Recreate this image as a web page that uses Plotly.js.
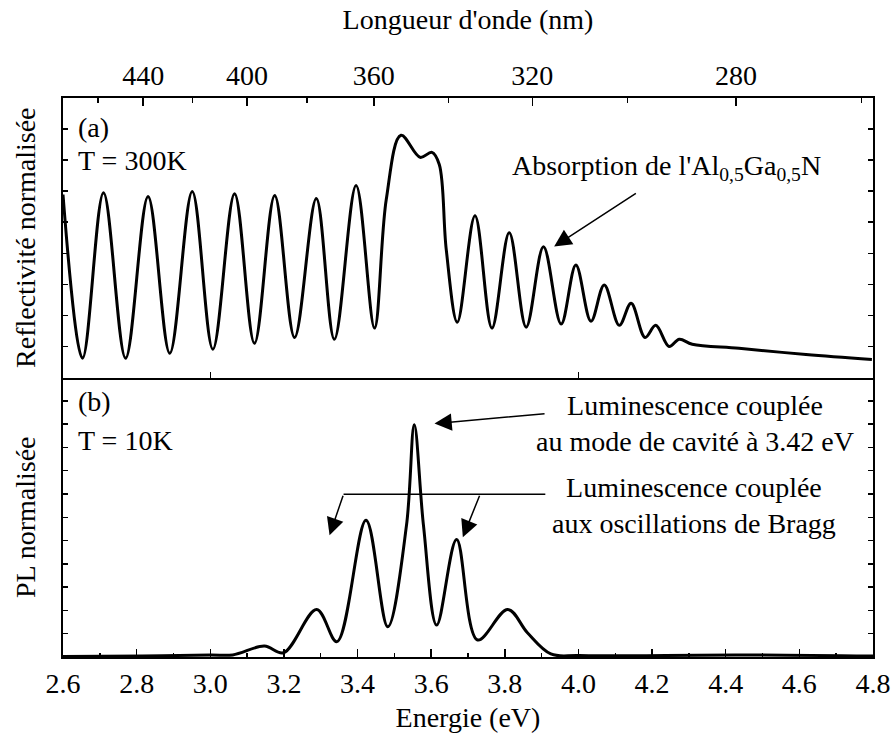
<!DOCTYPE html>
<html>
<head>
<meta charset="utf-8">
<script src="https://cdn.plot.ly/plotly-3.0.1.min.js"></script>
<style>html,body{margin:0;padding:0;background:#fff;}#chart{width:892px;height:749px;}</style>
</head>
<body>
<div id="chart"></div>
<script>
// (a) Reflectivity at 300K (normalised units)
const energyR = [2.600, 2.653, 2.710, 2.770, 2.831, 2.890, 2.951, 3.007, 3.066, 3.120,
  3.175, 3.229, 3.288, 3.337, 3.396, 3.446, 3.478, 3.518, 3.570, 3.602, 3.622, 3.641,
  3.671, 3.719, 3.765, 3.812, 3.858, 3.905, 3.953, 3.993, 4.034, 4.070, 4.111, 4.143,
  4.181, 4.210, 4.246, 4.274, 4.309, 4.436, 4.618, 4.797];
const reflR = [5.89, 0.62, 5.95, 0.62, 5.83, 0.78, 5.99, 0.91, 5.92, 1.10,
  5.86, 1.29, 5.76, 1.23, 6.18, 1.59, 5.73, 7.80, 7.09, 7.25, 6.86, 4.11,
  1.78, 5.21, 1.59, 4.66, 1.62, 4.21, 1.72, 3.62, 1.81, 2.98, 1.68, 2.39,
  1.29, 1.68, 1.00, 1.23, 1.07, 0.94, 0.74, 0.58];

// (b) Photoluminescence at 10K (normalised units)
const energyPL = [2.600, 2.816, 3.001, 3.061, 3.147, 3.199, 3.289, 3.344, 3.423, 3.482,
  3.533, 3.554, 3.579, 3.615, 3.669, 3.726, 3.808, 3.862, 3.925, 4.002, 4.436, 4.800];
const pl = [0.02, 0.04, 0.09, 0.09, 0.47, 0.18, 2.04, 0.66, 5.87, 1.30,
  5.66, 9.97, 5.66, 1.37, 5.04, 0.73, 2.04, 1.03, 0.13, 0.06, 0.09, 0.04];

// Top axis: wavelength (nm)
const lambdaMajor = [440, 400, 360, 320, 280];
const lambdaMinor = [460, 420, 380, 340, 300, 260];
const hc = 1239.84; // eV·nm

const FONT = 'Liberation Serif, Times New Roman, serif';
const FS = 28;

const traces = [
  {x: energyR, y: reflR, xaxis: 'x2', yaxis: 'y2', type: 'scatter', mode: 'lines',
   line: {color: '#000', width: 3, shape: 'spline', smoothing: 1}, hoverinfo: 'x+y', showlegend: false},
  {x: energyPL, y: pl, xaxis: 'x', yaxis: 'y', type: 'scatter', mode: 'lines',
   line: {color: '#000', width: 3, shape: 'spline', smoothing: 1}, hoverinfo: 'x+y', showlegend: false},
  // empty trace so the wavelength axis (x3) is instantiated
  {x: [], y: [], xaxis: 'x3', yaxis: 'y2', type: 'scatter', mode: 'lines', showlegend: false, hoverinfo: 'skip'}
];

const axLine = {showline: true, linecolor: '#000', linewidth: 2, zeroline: false, showgrid: false};

const layout = {
  width: 892, height: 749,
  margin: {l: 63, r: 19, t: 98, b: 92},
  paper_bgcolor: '#fff', plot_bgcolor: '#fff',
  font: {family: FONT, size: FS, color: '#000'},
  showlegend: false,
  xaxis: Object.assign({}, axLine, {
    domain: [0, 1], anchor: 'y', range: [2.6, 4.8], dtick: 0.2, tick0: 2.6,
    ticks: 'inside', ticklen: 8, tickwidth: 1.5, tickcolor: '#000', mirror: false,
    tickformat: '.1f', tickfont: {family: FONT, size: FS},
    minor: {dtick: 0.1, tick0: 2.6, ticks: 'inside', ticklen: 4, tickwidth: 1.5, tickcolor: '#000'},
    title: {text: 'Energie (eV)', font: {family: FONT, size: FS}, standoff: 10}
  }),
  yaxis: Object.assign({}, axLine, {
    domain: [0, 0.5], anchor: 'x', range: [0, 12], dtick: 1, tick0: 0,
    ticks: 'inside', ticklen: 5, tickwidth: 1.5, tickcolor: '#000', mirror: 'ticks',
    showticklabels: false,
    title: {text: 'PL normalisée', font: {family: FONT, size: FS}, standoff: 17}
  }),
  xaxis2: Object.assign({}, axLine, {
    domain: [0, 1], anchor: 'y2', range: [2.6, 4.8],
    tickmode: 'array', tickvals: [3.0, 4.0],
    ticks: 'inside', ticklen: 6, tickwidth: 1.5, tickcolor: '#000',
    showticklabels: false
  }),
  xaxis3: Object.assign({}, axLine, {
    overlaying: 'x2', anchor: 'y2', side: 'top', range: [2.6, 4.8],
    tickmode: 'array',
    tickvals: lambdaMajor.map(l => hc / l),
    ticktext: lambdaMajor.map(String),
    ticks: 'inside', ticklen: 8, tickwidth: 1.5, tickcolor: '#000',
    tickfont: {family: FONT, size: FS},
    minor: {tickmode: 'array', tickvals: lambdaMinor.map(l => hc / l), ticks: 'inside', ticklen: 5, tickwidth: 1.5, tickcolor: '#000'},
    title: {text: "Longueur d'onde (nm)", font: {family: FONT, size: FS}, standoff: 22}
  }),
  yaxis2: Object.assign({}, axLine, {
    domain: [0.5, 1], anchor: 'x2', range: [0, 9], dtick: 1, tick0: 0,
    ticks: 'inside', ticklen: 5, tickwidth: 1.5, tickcolor: '#000', mirror: 'ticks',
    showticklabels: false,
    title: {text: 'Reflectivité normalisée', font: {family: FONT, size: FS}, standoff: 17}
  }),
  shapes: [
    {type: 'line', xref: 'x', yref: 'y', x0: 3.362, y0: 6.99, x1: 3.910, y1: 6.99,
     line: {color: '#000', width: 1.5}}
  ],
  annotations: [
    {text: '(a)', xref: 'paper', yref: 'paper', x: 0.016, y: 0.948, xanchor: 'left', yanchor: 'middle', showarrow: false},
    {text: 'T = 300K', xref: 'paper', yref: 'paper', x: 0.016, y: 0.889, xanchor: 'left', yanchor: 'middle', showarrow: false},
    {text: '(b)', xref: 'paper', yref: 'paper', x: 0.016, y: 0.457, xanchor: 'left', yanchor: 'middle', showarrow: false},
    {text: 'T = 10K', xref: 'paper', yref: 'paper', x: 0.016, y: 0.388, xanchor: 'left', yanchor: 'middle', showarrow: false},
    {text: "Absorption de l'Al<sub>0,5</sub>Ga<sub>0,5</sub>N", xref: 'x2', yref: 'y2', x: 4.238, y: 6.75,
     xanchor: 'center', yanchor: 'middle', showarrow: false},
    {text: '', xref: 'x2', yref: 'y2', x: 3.934, y: 4.22, axref: 'x2', ayref: 'y2', ax: 4.160, ay: 5.96,
     showarrow: true, arrowhead: 2, arrowsize: 2.3, arrowwidth: 1.5, arrowcolor: '#000', standoff: 0},
    {text: 'Luminescence couplée<br>au mode de cavité à 3.42 eV', xref: 'x', yref: 'y', x: 4.317, y: 10.03,
     xanchor: 'center', yanchor: 'middle', align: 'center', showarrow: false},
    {text: '', xref: 'x', yref: 'y', x: 3.609, y: 10.02, axref: 'x', ayref: 'y', ax: 3.912, ay: 10.45,
     showarrow: true, arrowhead: 2, arrowsize: 2.3, arrowwidth: 1.5, arrowcolor: '#000', standoff: 0},
    {text: 'Luminescence couplée<br>aux oscillations de Bragg', xref: 'x', yref: 'y', x: 4.314, y: 6.51,
     xanchor: 'center', yanchor: 'middle', align: 'center', showarrow: false},
    {text: '', xref: 'x', yref: 'y', x: 3.324, y: 5.23, axref: 'x', ayref: 'y', ax: 3.362, ay: 6.99,
     showarrow: true, arrowhead: 2, arrowsize: 2.3, arrowwidth: 1.5, arrowcolor: '#000', standoff: 0},
    {text: '', xref: 'x', yref: 'y', x: 3.686, y: 5.14, axref: 'x', ayref: 'y', ax: 3.733, ay: 6.99,
     showarrow: true, arrowhead: 2, arrowsize: 2.3, arrowwidth: 1.5, arrowcolor: '#000', standoff: 0}
  ]
};

Plotly.newPlot('chart', traces, layout, {displayModeBar: false, staticPlot: true});
</script>
</body>
</html>
